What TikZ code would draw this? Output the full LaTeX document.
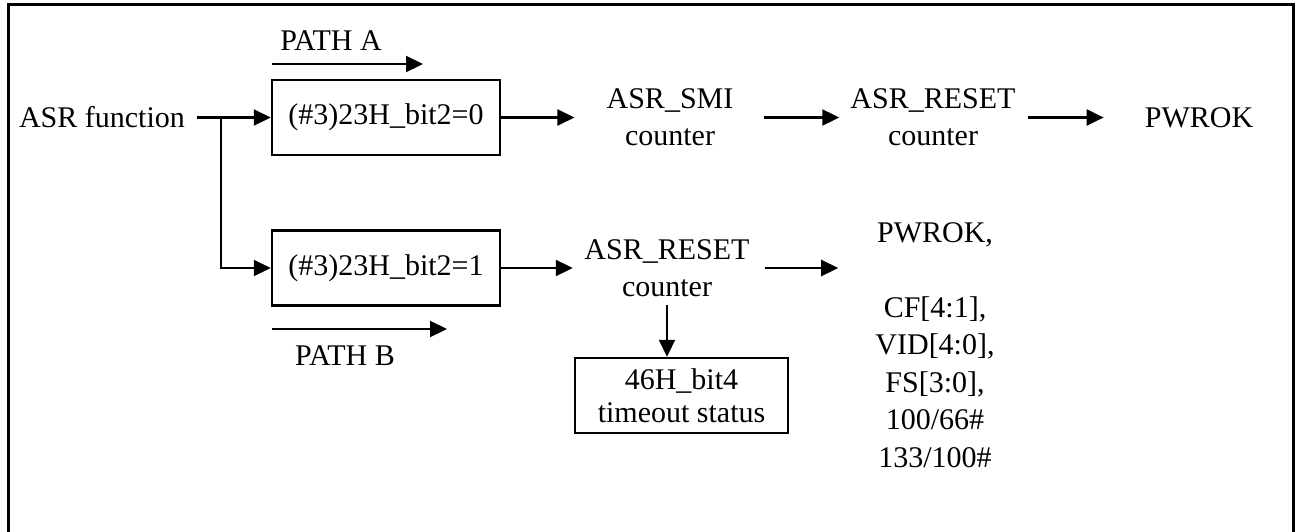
\documentclass[tikz,border=0pt]{standalone}
\usepackage{fontspec}
\setmainfont{Liberation Serif}
\usetikzlibrary{arrows.meta}
\tikzset{
  txt/.style={inner sep=0pt, align=center, font=\fontsize{30}{37}\selectfont},
  boxnode/.style={draw, line width=2.5pt, inner sep=0pt, align=center,
    font=\fontsize{30}{33}\selectfont, minimum width=228pt, minimum height=75pt},
  arr/.style={line width=2.2pt, -{Triangle[length=17pt,width=16pt]}},
  frame/.style={line width=3pt}
}
\begin{document}
\begin{tikzpicture}[x=1pt,y=-1pt]
\useasboundingbox (0,0) rectangle (1298,531);
\clip (0,0) rectangle (1298,531);
\draw[frame] (8,4) rectangle (1293,560);

% nodes
\node[txt] (fn) at (102,117.5) {ASR function};
\node[boxnode] (boxA) at (386,117.5) {(\#3)23H\_bit2=0};
\node[boxnode] (boxB) at (386,268) {(\#3)23H\_bit2=1};
\node[txt] (smi) at (670,117.5) {ASR\_SMI\\counter};
\node[txt] (rst1) at (933,117.5) {ASR\_RESET\\counter};
\node[txt] (pwr) at (1199,117.5) {PWROK};
\node[txt] (rst2) at (667,268) {ASR\_RESET\\counter};
\node[boxnode, minimum width=213pt] (box46) at (681.5,395.5) {46H\_bit4\\timeout status};
\node[txt, anchor=north, font=\fontsize{30}{37.5}\selectfont] (list) at (935,222)
  {PWROK,\\[37.5pt]CF[4:1],\\VID[4:0],\\FS[3:0],\\100/66\#\\133/100\#};
\node[txt] (pathA) at (331,41) {PATH A};
\node[txt] (pathB) at (345,356) {PATH B};

\coordinate (j) at (221,117.5);
\coordinate (pa1) at (272,64);
\coordinate (pa2) at (423,64);
\coordinate (pb1) at (272,329);
\coordinate (pb2) at (447,329);

% connectors
\draw[arr, shorten <=12pt] (fn) -- (boxA);
\draw[arr] (j) |- (boxB.west);
\draw[arr, shorten >=32pt] (boxA) -- (smi);
\draw[arr, shorten <=30pt, shorten >=11pt] (smi) -- (rst1);
\draw[arr, shorten <=12.5pt, shorten >=41pt] (rst1) -- (pwr);
\draw[arr, shorten >=11.5pt] (boxB) -- (rst2);
\draw[arr, shorten <=15.5pt, shorten >=37pt] (rst2) -- (rst2 -| list.west);
\draw[arr, shorten <=8pt] (rst2.south) -- (rst2.south |- box46.north);
\draw[arr] (pa1) -- (pa2);
\draw[arr] (pb1) -- (pb2);
\end{tikzpicture}
\end{document}
